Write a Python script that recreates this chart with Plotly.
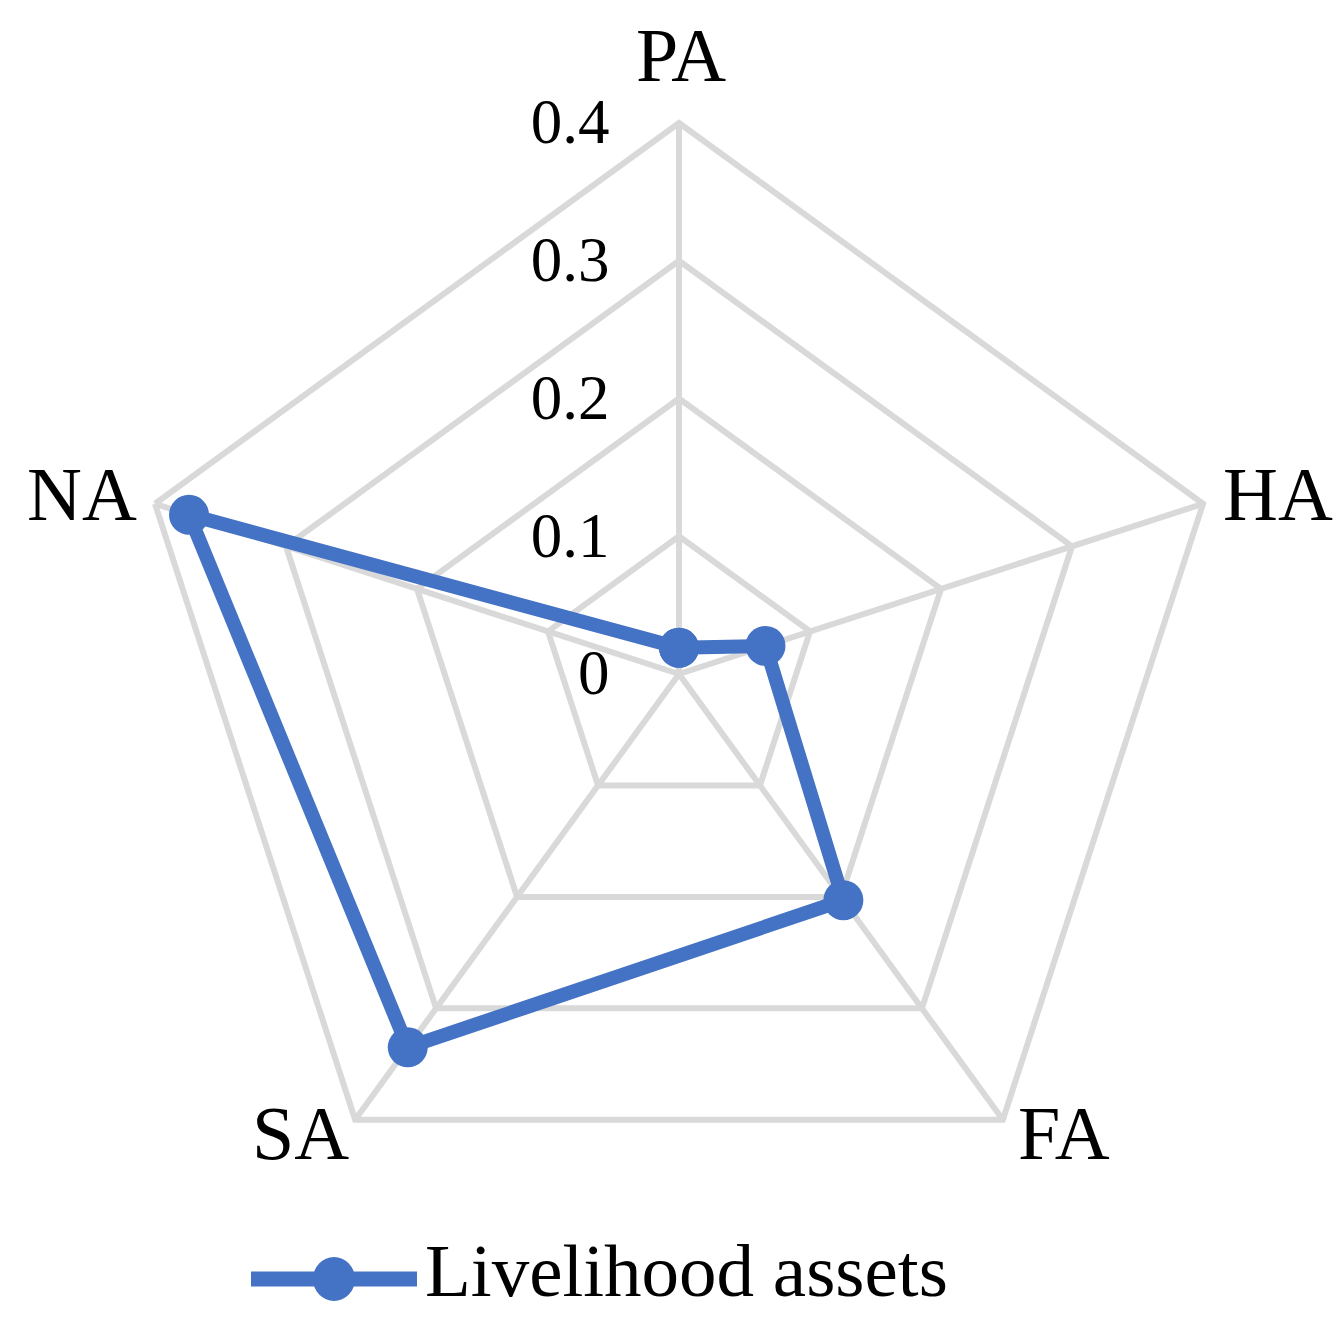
import plotly.graph_objects as go

# livelihood asset indices
categories = ['PA', 'HA', 'FA', 'SA', 'NA']
values = [0.019, 0.066, 0.203, 0.335, 0.374]
radial_ticks = [0, 0.1, 0.2, 0.3, 0.4]
radial_labels = ['0', '0.1', '0.2', '0.3', '0.4']
series_name = 'Livelihood assets'

blue = '#4472C4'
grid = '#D9D9D9'
font_family = 'Liberation Serif'
W, H = 1344, 1323

# pixel anchors for the category names around the web (same order as categories)
label_xy = [(673, 47), (1270, 486), (1056, 1125), (292, 1125), (74, 486)]

fig = go.Figure()
fig.add_trace(go.Scatterpolar(
    r=values + values[:1],
    theta=categories + categories[:1],
    mode='lines+markers',
    name=series_name,
    showlegend=False,
    line=dict(color=blue, width=14),
    marker=dict(color=blue, size=40),
))

for name, (px, py) in zip(categories, label_xy):
    fig.add_annotation(text=name, xref='paper', yref='paper',
                       x=px / W, y=1 - py / H, xanchor='center', yanchor='middle',
                       showarrow=False,
                       font=dict(size=76, family=font_family, color='black'))

# legend drawn by hand so the sample line is as long as in the original
ly = 1 - 1271 / H
fig.add_shape(type='line', xref='paper', yref='paper',
              x0=243 / W, x1=409 / W, y0=ly, y1=ly,
              line=dict(color=blue, width=15))
fig.add_shape(type='circle', xref='paper', yref='paper',
              x0=(326 - 21) / W, x1=(326 + 21) / W,
              y0=ly - 22 / H, y1=ly + 22 / H,
              fillcolor=blue, line=dict(width=0))
fig.add_annotation(text=series_name, xref='paper', yref='paper',
                   x=415 / W, y=1 - 1262 / H, xanchor='left', yanchor='middle',
                   showarrow=False,
                   font=dict(size=75, family=font_family, color='black'))

fig.update_layout(
    width=W,
    height=H,
    paper_bgcolor='white',
    margin=dict(l=0, r=0, t=0, b=0),
    font=dict(family=font_family, color='black'),
    showlegend=False,
    polar=dict(
        bgcolor='white',
        gridshape='linear',
        domain=dict(x=[120 / W, 1222 / W], y=[1 - 1217 / H, 1 - 115 / H]),
        radialaxis=dict(
            range=[0, 0.4],
            tickvals=radial_ticks,
            ticktext=radial_labels,
            angle=90,
            tickangle=90,
            side='counterclockwise',
            showline=False,
            gridcolor=grid,
            gridwidth=6,
            ticks='outside',
            ticklen=47,
            tickcolor='rgba(0,0,0,0)',
            tickfont=dict(size=63, family=font_family, color='black'),
        ),
        angularaxis=dict(
            direction='clockwise',
            rotation=90,
            linecolor=grid,
            linewidth=6,
            gridcolor=grid,
            gridwidth=6,
            ticks='',
            showticklabels=False,
        ),
    ),
)

fig.write_html('out.html')
